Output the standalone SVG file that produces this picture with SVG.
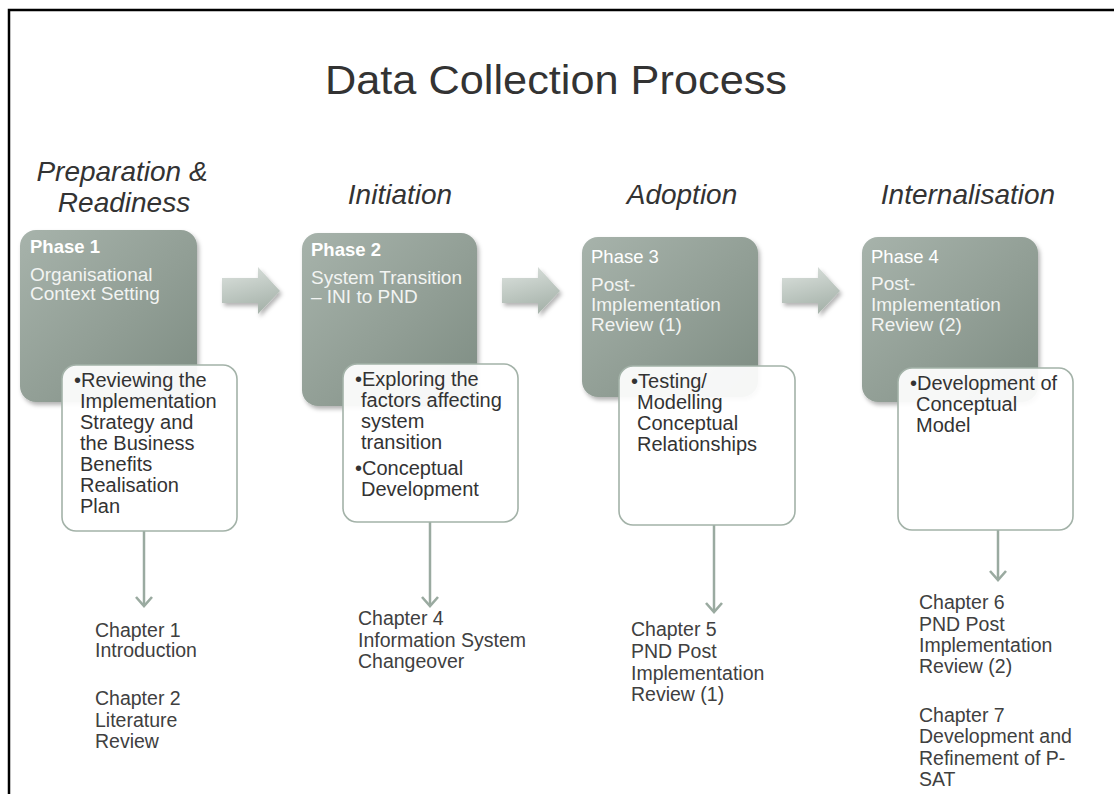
<svg xmlns="http://www.w3.org/2000/svg" width="1114" height="794" viewBox="0 0 1114 794">
<defs>
<linearGradient id="gPhase" x1="0" y1="0" x2="1" y2="1">
<stop offset="0" stop-color="#a7b3ab"/>
<stop offset="0.55" stop-color="#919e95"/>
<stop offset="1" stop-color="#7d8c82"/>
</linearGradient>
<linearGradient id="gArrow" x1="0" y1="0" x2="0.3" y2="1">
<stop offset="0" stop-color="#dde3df"/>
<stop offset="1" stop-color="#a9b5ad"/>
</linearGradient>
<filter id="sh" x="-10%" y="-10%" width="130%" height="130%">
<feDropShadow dx="2" dy="3" stdDeviation="2" flood-color="#000" flood-opacity="0.3"/>
</filter>
<marker id="vee" viewBox="0 0 20 20" refX="18" refY="10" markerWidth="20" markerHeight="20" markerUnits="userSpaceOnUse" orient="auto">
<polyline points="9,2 18,10 9,18" fill="none" stroke="#9aaaa0" stroke-width="2.6"/>
</marker>
</defs>
<style>
text{font-family:"Liberation Sans",Arial,sans-serif;}
.title{font-size:40px;fill:#333;text-anchor:middle;}
.stage{font-size:28px;font-style:italic;fill:#333;text-anchor:middle;}
.phase{fill:url(#gPhase);filter:url(#sh);}
.ph{font-size:18.5px;fill:#fff;}
.phb{font-weight:bold;}
.pt{font-size:19px;fill:#f2f4f2;}
.detail{fill:#fff;fill-opacity:0.93;stroke:#a3b2a8;stroke-width:1.6;}
.dt{font-size:20px;fill:#333;}
.ch{font-size:19.5px;fill:#404040;}
.blk{fill:url(#gArrow);filter:url(#sh);}
.down{stroke:#9aaaa0;stroke-width:2.5;fill:none;marker-end:url(#vee);}
</style>
<rect x="0" y="0" width="1114" height="794" fill="#fff"/>
<path d="M9,794 V10 H1114" fill="none" stroke="#000" stroke-width="2.5"/>
<text class="title" x="556" y="94" textLength="462" lengthAdjust="spacingAndGlyphs">Data Collection Process</text>
<g id="stages">
<text class="stage" x="122" y="181">Preparation &amp;</text>
<text class="stage" x="124" y="212">Readiness</text>
<text class="stage" x="400" y="204">Initiation</text>
<text class="stage" x="682" y="204">Adoption</text>
<text class="stage" x="968" y="204">Internalisation</text>
</g>
<g id="connectors">
<path class="blk" d="M222,278 H258 V267 L280,291 L258,314 V303 H222 Z"/>
<path class="blk" d="M502,278 H538 V267 L560,291 L538,314 V303 H502 Z"/>
<path class="blk" d="M782,278 H818 V267 L840,291 L818,314 V303 H782 Z"/>
<line class="down" x1="144" y1="531" x2="144" y2="606"/>
<line class="down" x1="430" y1="522" x2="430" y2="606"/>
<line class="down" x1="714" y1="525" x2="714" y2="612"/>
<line class="down" x1="998" y1="530" x2="998" y2="580"/>
</g>
<g id="phase1">
<rect class="phase" x="20" y="230" width="177" height="172" rx="16"/>
<text class="ph phb" x="30" y="253">Phase 1</text>
<text class="pt" x="30" y="281">Organisational</text>
<text class="pt" x="30" y="300">Context Setting</text>
</g>
<g id="detail1">
<rect class="detail" x="62" y="365" width="175" height="166" rx="14"/>
<text class="dt" x="74" y="387">•Reviewing the</text>
<text class="dt" x="80" y="408">Implementation</text>
<text class="dt" x="80" y="429">Strategy and</text>
<text class="dt" x="80" y="450">the Business</text>
<text class="dt" x="80" y="471">Benefits</text>
<text class="dt" x="80" y="492">Realisation</text>
<text class="dt" x="80" y="513">Plan</text>
</g>
<g id="phase2">
<rect class="phase" x="302" y="233" width="175" height="173" rx="16"/>
<text class="ph phb" x="311" y="256">Phase 2</text>
<text class="pt" x="311" y="284">System Transition</text>
<text class="pt" x="311" y="303">– INI to PND</text>
</g>
<g id="detail2">
<rect class="detail" x="343" y="364" width="175" height="158" rx="14"/>
<text class="dt" x="355" y="386">•Exploring the</text>
<text class="dt" x="361" y="407">factors affecting</text>
<text class="dt" x="361" y="428">system</text>
<text class="dt" x="361" y="449">transition</text>
<text class="dt" x="355" y="475">•Conceptual</text>
<text class="dt" x="361" y="496">Development</text>
</g>
<g id="phase3">
<rect class="phase" x="582" y="237" width="176" height="160" rx="16"/>
<text class="ph" x="591" y="263">Phase 3</text>
<text class="pt" x="591" y="291">Post-</text>
<text class="pt" x="591" y="311">Implementation</text>
<text class="pt" x="591" y="331">Review (1)</text>
</g>
<g id="detail3">
<rect class="detail" x="619" y="366" width="176" height="159" rx="14"/>
<text class="dt" x="631" y="388">•Testing/</text>
<text class="dt" x="637" y="409">Modelling</text>
<text class="dt" x="637" y="430">Conceptual</text>
<text class="dt" x="637" y="451">Relationships</text>
</g>
<g id="phase4">
<rect class="phase" x="862" y="237" width="176" height="165" rx="16"/>
<text class="ph" x="871" y="263">Phase 4</text>
<text class="pt" x="871" y="290">Post-</text>
<text class="pt" x="871" y="311">Implementation</text>
<text class="pt" x="871" y="331">Review (2)</text>
</g>
<g id="detail4">
<rect class="detail" x="898" y="368" width="175" height="162" rx="14"/>
<text class="dt" x="910" y="390">•Development of</text>
<text class="dt" x="916" y="411">Conceptual</text>
<text class="dt" x="916" y="432">Model</text>
</g>
<g id="chapters1">
<text class="ch" x="95" y="637">Chapter 1</text>
<text class="ch" x="95" y="657">Introduction</text>
<text class="ch" x="95" y="705">Chapter 2</text>
<text class="ch" x="95" y="727">Literature</text>
<text class="ch" x="95" y="748">Review</text>
</g>
<g id="chapters2">
<text class="ch" x="358" y="625">Chapter 4</text>
<text class="ch" x="358" y="647">Information System</text>
<text class="ch" x="358" y="668">Changeover</text>
</g>
<g id="chapters3">
<text class="ch" x="631" y="636">Chapter 5</text>
<text class="ch" x="631" y="658">PND Post</text>
<text class="ch" x="631" y="680">Implementation</text>
<text class="ch" x="631" y="701">Review (1)</text>
</g>
<g id="chapters4">
<text class="ch" x="919" y="609">Chapter 6</text>
<text class="ch" x="919" y="631">PND Post</text>
<text class="ch" x="919" y="652">Implementation</text>
<text class="ch" x="919" y="673">Review (2)</text>
<text class="ch" x="919" y="722">Chapter 7</text>
<text class="ch" x="919" y="743">Development and</text>
<text class="ch" x="919" y="765">Refinement of P-</text>
<text class="ch" x="919" y="786">SAT</text>
</g>
</svg>
